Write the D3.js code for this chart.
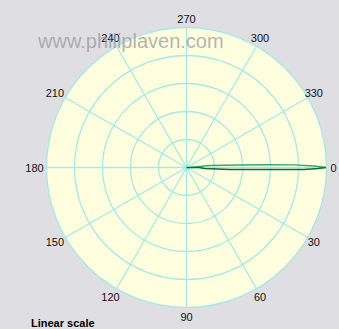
<!DOCTYPE html>
<html>
<head>
<meta charset="utf-8">
<script src="https://cdn.jsdelivr.net/npm/d3@7"></script>
<style>
  html, body { margin: 0; padding: 0; background: #dfdfe3; }
  svg { display: block; }
  text { font-family: "Liberation Sans", Arial, sans-serif; }
</style>
</head>
<body>
<script>
// Bearing labels around the dial (degrees, clockwise from the right)
const bearings = [0, 30, 60, 90, 120, 150, 180, 210, 240, 270, 300, 330];
// Ring values on the linear radial axis
const ringValues = [0.2, 0.4, 0.6, 0.8, 1.0];
// Radiation pattern lobe: angle (deg) and linear gain, traced along each edge
const upperAngles = [0, -5.0, -2.7, -1.9, -1.4, -0.7, 0];
const upperGain   = [0.03, 0.165, 0.38, 0.59, 0.77, 0.91, 0.995];
const lowerAngles = [0, 0, 3.2, 2.7, 1.4, 1.0, 0.45, 0];
const lowerGain   = [0, 0.09, 0.13, 0.31, 0.59, 0.84, 0.94, 0.995];

const W = 339, H = 329;
const cx = 186.5, cy = 167.5, R = 140;

const svg = d3.select("body").append("svg").attr("width", W).attr("height", H);

const r = d3.scaleLinear().domain([0, 1]).range([0, R]);
const toRad = d => (d + 90) * Math.PI / 180; // d3 radial angle from screen bearing

const g = svg.append("g").attr("transform", `translate(${cx},${cy})`);

// Plot face
g.append("circle").attr("r", r(1)).attr("fill", "#ffffe0");

// Rings
g.selectAll("circle.ring").data(ringValues).join("circle")
  .attr("class", "ring")
  .attr("r", d => r(d))
  .attr("fill", "none")
  .attr("stroke", "#a6e8e6")
  .attr("stroke-width", 1.3);

// Spokes
g.selectAll("line.spoke").data(bearings).join("line")
  .attr("class", "spoke")
  .attr("x1", 0).attr("y1", 0)
  .attr("x2", d => r(1) * Math.cos(d * Math.PI / 180))
  .attr("y2", d => r(1) * Math.sin(d * Math.PI / 180))
  .attr("stroke", "#a6e8e6")
  .attr("stroke-width", 1.3);

// Bearing labels (slightly tighter on the right side of the dial)
const LR = 149;
svg.selectAll("text.bearing").data(bearings).join("text")
  .attr("class", "bearing")
  .attr("x", d => {
    const c = Math.cos(d * Math.PI / 180);
    return cx + (c > 0 ? 147 : 152) * c;
  })
  .attr("y", d => cy + LR * Math.sin(d * Math.PI / 180))
  .attr("text-anchor", "middle")
  .attr("dominant-baseline", "central")
  .attr("font-size", 11)
  .attr("fill", "#111")
  .text(d => d);

// Lobe
const radial = d3.lineRadial()
  .angle(d => toRad(d[0]))
  .radius(d => r(d[1]));

const upper = upperAngles.map((a, i) => [a, upperGain[i]]);
const lower = lowerAngles.map((a, i) => [a, lowerGain[i]]);

g.append("path").datum(upper)
  .attr("d", radial)
  .attr("fill", "none")
  .attr("stroke", "#35a869")
  .attr("stroke-width", 1.4);

g.append("path").datum(lower)
  .attr("d", radial)
  .attr("fill", "none")
  .attr("stroke", "#0b6b3a")
  .attr("stroke-width", 1.4);

// Watermark
svg.append("text")
  .attr("x", 38).attr("y", 48)
  .attr("font-size", 20)
  .attr("fill", "#9a9a9a")
  .attr("fill-opacity", 0.75)
  .text("www.philiplaven.com");

// Scale caption
svg.append("text")
  .attr("x", 31).attr("y", 327)
  .attr("font-size", 11)
  .attr("font-weight", "bold")
  .attr("fill", "#000")
  .text("Linear scale");
</script>
</body>
</html>
